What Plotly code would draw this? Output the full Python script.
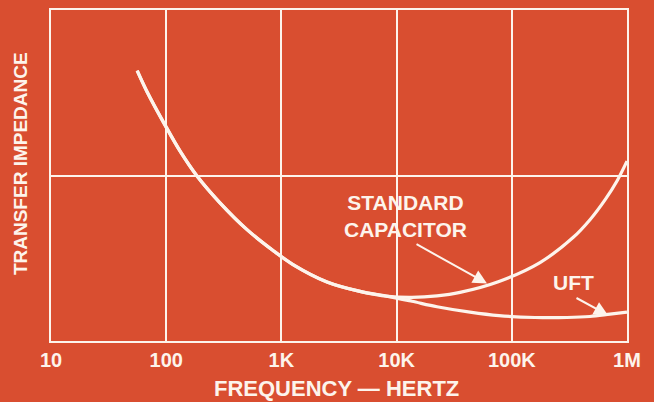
import plotly.graph_objects as go

# Frequency axis (Hz) and tick labels
tick_freqs = [10, 100, 1_000, 10_000, 100_000, 1_000_000]
tick_labels = ["10", "100", "1K", "10K", "100K", "1M"]

# Transfer impedance, relative units (mid gridline = 1)
freq_std = [56, 68, 98, 132, 185, 293, 503, 846, 1261, 2488, 4812, 8420,
            13600, 22420, 35510, 77420, 175700, 339900, 477200, 644200,
            818900, 1000000]
imp_std = [1.634, 1.508, 1.303, 1.147, 0.997, 0.835, 0.673, 0.547, 0.462,
           0.357, 0.300, 0.270, 0.264, 0.273, 0.294, 0.360, 0.474, 0.625,
           0.733, 0.853, 0.967, 1.087]

freq_uft = [56, 68, 98, 132, 185, 293, 503, 846, 1261, 2488, 4812, 8420,
            13600, 22420, 43380, 77420, 159000, 301500, 477200, 711800,
            1000000]
imp_uft = [1.634, 1.508, 1.303, 1.147, 0.997, 0.835, 0.673, 0.547, 0.462,
           0.357, 0.300, 0.270, 0.240, 0.207, 0.174, 0.153, 0.142, 0.142,
           0.148, 0.162, 0.174]

BG = "#D94E30"
INK = "#FDF4EC"
FAMILY = "Liberation Sans, Arial, sans-serif"


def bold(size):
    return dict(family=FAMILY, size=size, color=INK, weight="bold")


fig = go.Figure()
for fx, fy in ((freq_uft, imp_uft), (freq_std, imp_std)):
    fig.add_trace(go.Scatter(
        x=fx, y=fy, mode="lines",
        line=dict(color=INK, width=3.2, shape="spline", smoothing=0.9),
        hoverinfo="skip", showlegend=False,
    ))

# Callout arrows (x in log10 units on the log axis)
fig.add_annotation(x=4.785, y=0.348, xref="x", yref="y",
                   ax=-72, ay=-40, showarrow=True, arrowhead=2,
                   arrowsize=1.4, arrowwidth=2, arrowcolor=INK, text="")
fig.add_annotation(x=5.835, y=0.156, xref="x", yref="y",
                   ax=-33, ay=-18, showarrow=True, arrowhead=2,
                   arrowsize=1.4, arrowwidth=2, arrowcolor=INK, text="")

fig.add_annotation(text="STANDARD<br>CAPACITOR", x=(405 - 51) / 576, y=(341 - 215) / 333,
                   xref="paper", yref="paper", showarrow=False, font=bold(21),
                   align="center", xanchor="center", yanchor="middle")
fig.add_annotation(text="UFT", x=(573 - 51) / 576, y=(341 - 282) / 333,
                   xref="paper", yref="paper", showarrow=False, font=bold(21),
                   xanchor="center", yanchor="middle")

# Axis titles
fig.add_annotation(text="FREQUENCY — HERTZ", x=(336 - 51) / 576, y=0,
                   xref="paper", yref="paper", yshift=-47, showarrow=False,
                   font=bold(22), xanchor="center", yanchor="middle")
fig.add_annotation(text="TRANSFER IMPEDANCE", x=0, y=(341 - 163) / 333,
                   xref="paper", yref="paper", xshift=-31, textangle=-90,
                   showarrow=False, font=bold(19), xanchor="center", yanchor="middle")

fig.update_layout(
    width=654, height=402,
    margin=dict(l=51, r=27, t=8, b=61),
    paper_bgcolor=BG, plot_bgcolor=BG,
    font=bold(20),
)
fig.update_xaxes(
    type="log", range=[1, 6],
    tickvals=tick_freqs, ticktext=tick_labels,
    showgrid=True, gridcolor=INK, gridwidth=2,
    showline=True, linecolor=INK, linewidth=2, mirror=True,
    ticks="", tickfont=bold(20), zeroline=False,
)
fig.update_yaxes(
    range=[0, 2], tickvals=[1], showticklabels=False,
    showgrid=True, gridcolor=INK, gridwidth=2,
    showline=True, linecolor=INK, linewidth=2, mirror=True,
    ticks="", zeroline=False,
)

fig.write_html("out.html")
